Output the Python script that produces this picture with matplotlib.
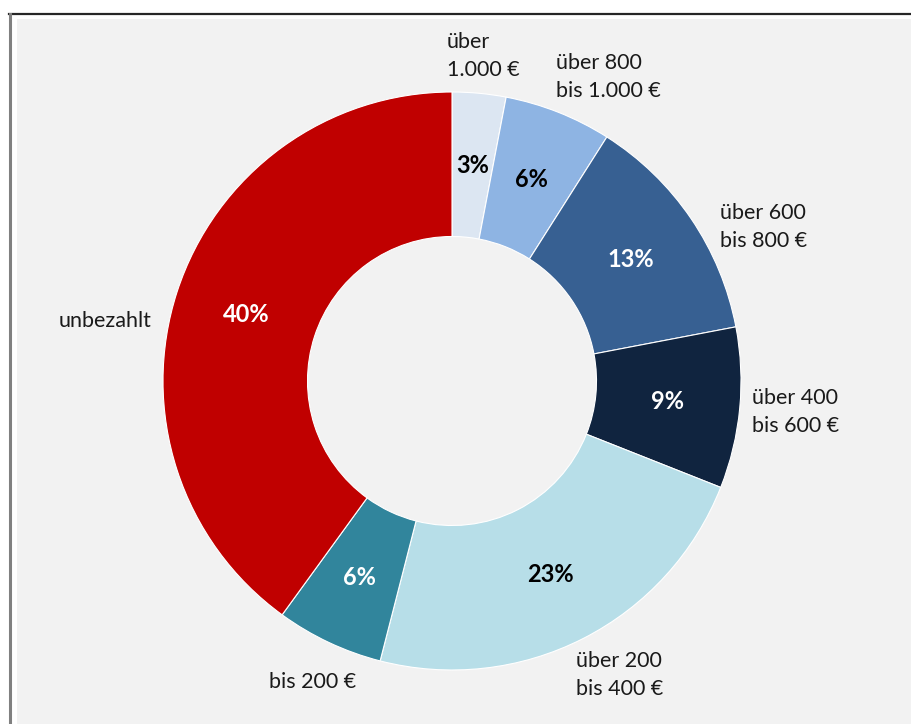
import matplotlib.pyplot as plt
from matplotlib.patches import Rectangle
from matplotlib.lines import Line2D

plt.rcParams['font.family'] = ['Lato', 'DejaVu Sans']

# slices clockwise from top
labels = ['über\n1.000 €', 'über 800\nbis 1.000 €', 'über 600\nbis 800 €',
          'über 400\nbis 600 €', 'über 200\nbis 400 €', 'bis 200 €', 'unbezahlt']
shares = [3, 6, 13, 9, 23, 6, 40]
colors = ['#dce6f2', '#8eb4e3', '#376092', '#10243f', '#b7dee8', '#31859c', '#c00000']
pct_colors = ['black', 'black', 'white', 'white', 'black', 'white', 'white']

W, H = 912, 724
fig = plt.figure(figsize=(W / 100, H / 100), dpi=100)
fig.patch.set_facecolor('white')

# frame of the original chart box
fig.patches.append(Rectangle((17 / W, 0), 1, 1 - 19 / H, transform=fig.transFigure,
                             facecolor='#f2f2f2', edgecolor='none', zorder=-5))
fig.lines.append(Line2D([9 / W, 1], [1 - 14 / H, 1 - 14 / H], transform=fig.transFigure,
                        color='#262626', lw=1.6))
fig.lines.append(Line2D([10 / W, 10 / W], [0, 1 - 14 / H], transform=fig.transFigure,
                        color='#808080', lw=2.2))

ax = fig.add_axes([0, 0, 1, 1])
ax.patch.set_visible(False)

cx, cy, r = 452, H - 381, 289
wedges, texts, autotexts = ax.pie(
    shares, colors=colors, startangle=90, counterclock=False,
    center=(cx, cy), radius=r, autopct='%d%%', pctdistance=0.75,
    wedgeprops=dict(width=r * 0.5, edgecolor='white', linewidth=0.8),
    textprops=dict(fontsize=17, fontweight='bold'))
for t, c in zip(autotexts, pct_colors):
    t.set_color(c)

ax.set_xlim(0, W)
ax.set_ylim(0, H)
ax.set_aspect('equal')
ax.axis('off')

# outer labels
lab_pos = [(447, 56, 'left'), (556, 77, 'left'), (720, 227, 'left'),
           (752, 412, 'left'), (576, 675, 'left'), (313, 682, 'center'),
           (152, 321, 'right')]
for lab, (x, y, ha) in zip(labels, lab_pos):
    ax.text(x, H - y, lab, ha=ha, va='center',
            fontsize=15.5, color='#1a1a1a', linespacing=1.45)

fig.savefig('out.png', dpi=100)
